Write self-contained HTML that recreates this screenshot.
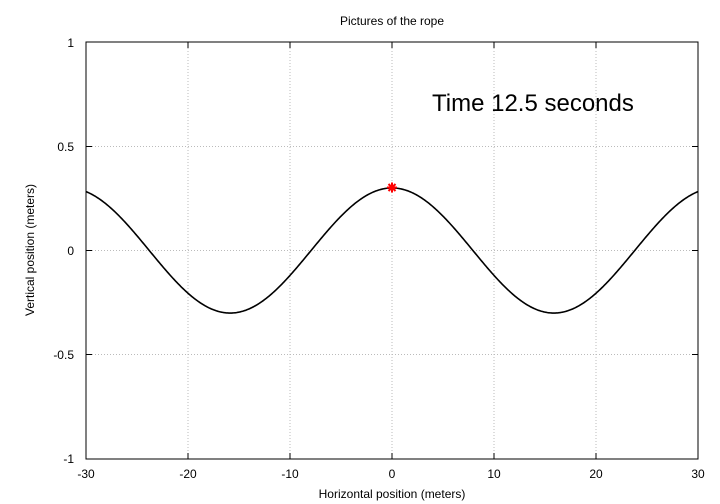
<!DOCTYPE html>
<html><head><meta charset="utf-8"><style>
html,body{margin:0;padding:0;background:#fff;}
svg{display:block;font-family:"Liberation Sans",sans-serif;}
</style></head><body>
<svg id="s" width="720" height="504" xmlns="http://www.w3.org/2000/svg">
<rect width="720" height="504" fill="#fff"/>
<g stroke="#bbb" stroke-width="1" stroke-dasharray="1,2" fill="none">
<line x1="188" y1="42" x2="188" y2="459"/>
<line x1="290" y1="42" x2="290" y2="459"/>
<line x1="392" y1="42" x2="392" y2="459"/>
<line x1="494" y1="42" x2="494" y2="459"/>
<line x1="596" y1="42" x2="596" y2="459"/>
<line x1="86" y1="146.5" x2="698" y2="146.5"/>
<line x1="86" y1="250.5" x2="698" y2="250.5"/>
<line x1="86" y1="354.5" x2="698" y2="354.5"/>
</g>
<rect x="86" y="42" width="612" height="417" fill="none" stroke="#000" stroke-width="1"/>
<g stroke="#000" stroke-width="1">
<line x1="86" y1="146.5" x2="92" y2="146.5"/><line x1="698" y1="146.5" x2="692" y2="146.5"/>
<line x1="86" y1="250.5" x2="92" y2="250.5"/><line x1="698" y1="250.5" x2="692" y2="250.5"/>
<line x1="86" y1="354.5" x2="92" y2="354.5"/><line x1="698" y1="354.5" x2="692" y2="354.5"/>
<line x1="188" y1="459" x2="188" y2="453"/><line x1="188" y1="42" x2="188" y2="48"/>
<line x1="290" y1="459" x2="290" y2="453"/><line x1="290" y1="42" x2="290" y2="48"/>
<line x1="392" y1="459" x2="392" y2="453"/><line x1="392" y1="42" x2="392" y2="48"/>
<line x1="494" y1="459" x2="494" y2="453"/><line x1="494" y1="42" x2="494" y2="48"/>
<line x1="596" y1="459" x2="596" y2="453"/><line x1="596" y1="42" x2="596" y2="48"/>
</g>
<g font-size="12" fill="#000" text-anchor="end">
<text x="74" y="47">1</text>
<text x="74" y="151">0.5</text>
<text x="74" y="255">0</text>
<text x="74" y="359">-0.5</text>
<text x="74" y="463">-1</text>
</g>
<g font-size="12" fill="#000" text-anchor="middle">
<text x="86" y="478">-30</text>
<text x="188" y="478">-20</text>
<text x="290" y="478">-10</text>
<text x="392" y="478">0</text>
<text x="494" y="478">10</text>
<text x="596" y="478">20</text>
<text x="698" y="478">30</text>
<text x="392" y="498">Horizontal position (meters)</text>
<text x="392" y="25">Pictures of the rope</text>
<text transform="translate(34,250) rotate(-90)">Vertical position (meters)</text>
</g>
<text x="432" y="111" font-size="24" fill="#000">Time 12.5 seconds</text>
<path id="c" fill="none" stroke="#000" stroke-width="1.6"/>
<g stroke="#f00" stroke-width="2">
<line x1="387" y1="187.5" x2="397" y2="187.5"/>
<line x1="392" y1="182.5" x2="392" y2="192.5"/>
<line x1="388.5" y1="184" x2="395.5" y2="191"/>
<line x1="388.5" y1="191" x2="395.5" y2="184"/>
</g>
</svg>
<script>
var d="";
for(var i=0;i<=600;i++){var x=-30+i*0.1;var y=0.3*Math.cos(x/5.05);
var px=392+x*10.2, py=250.5-y*208.5; d+=(i?"L":"M")+px.toFixed(2)+","+py.toFixed(2);}
document.getElementById("c").setAttribute("d",d);
</script>
</body></html>
